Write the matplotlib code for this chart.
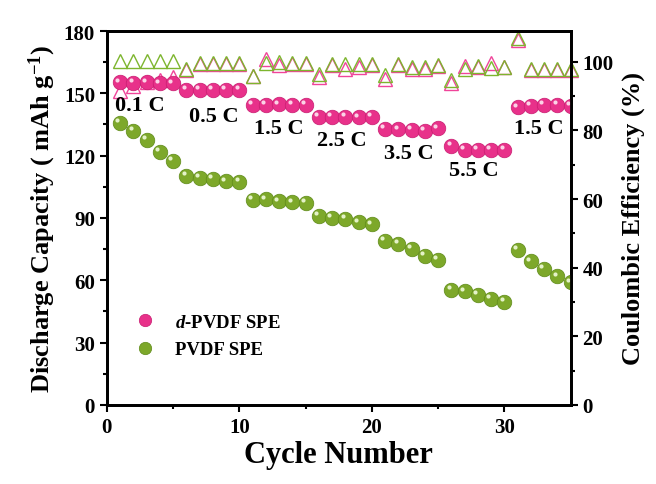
import matplotlib.pyplot as plt
import matplotlib.transforms as mtrans
import numpy as np

plt.rcParams['font.family'] = 'Liberation Serif'
plt.rcParams['font.weight'] = 'bold'
plt.rcParams['mathtext.fontset'] = 'custom'
plt.rcParams['mathtext.it'] = 'Liberation Serif:italic:bold'
plt.rcParams['mathtext.rm'] = 'Liberation Serif:bold'

cycles = np.arange(1, 36)

# discharge capacity (mAh/g)
cap_d = [155.3, 155.0, 155.3, 154.8, 154.8,
         151.7, 151.5, 151.6, 151.5, 151.6,
         144.5, 144.6, 144.7, 144.5, 144.5,
         138.7, 138.5, 138.6, 138.4, 138.6,
         132.8, 132.6, 132.5, 131.9, 133.1,
         124.8, 122.9, 122.9, 122.8, 122.9,
         143.2, 144.0, 144.5, 144.5, 144.0]
cap_p = [135.7, 132.0, 127.5, 121.8, 117.4,
         110.2, 109.2, 108.8, 107.6, 107.2,
         98.8, 99.0, 98.0, 97.5, 97.2,
         91.1, 90.0, 89.5, 87.9, 86.9,
         78.9, 77.5, 75.0, 71.8, 69.9,
         55.5, 54.7, 52.9, 51.0, 49.7,
         74.7, 69.1, 65.4, 61.9, 59.0]

# coulombic efficiency (%)
ce_d = [91.6, 93.1, 94.1, 94.7, 95.6,
        97.5, 99.5, 99.5, 99.5, 99.5,
        96.0, 100.8, 99.0, 99.5, 99.5,
        95.7, 99.0, 98.0, 98.5, 99.0,
        95.1, 99.0, 98.0, 98.0, 98.8,
        93.8, 98.9, 98.5, 99.6, 98.4,
        106.5, 97.5, 97.5, 97.5, 97.5]
ce_p = [100.3, 100.3, 100.3, 100.3, 100.3,
        98.0, 99.8, 99.8, 99.8, 99.8,
        96.0, 99.8, 99.9, 99.8, 99.8,
        96.5, 99.5, 99.5, 99.5, 99.4,
        96.3, 99.4, 98.4, 98.4, 99.1,
        94.8, 97.8, 98.7, 98.3, 98.4,
        107.1, 98.0, 98.0, 98.0, 98.0]

rates = ['0.1 C', '0.5 C', '1.5 C', '2.5 C', '3.5 C', '5.5 C', '1.5 C']
rate_x = [2.5, 8.1, 13.0, 17.7, 22.8, 27.7, 32.6]
rate_y = [144.4, 139.1, 133.3, 127.5, 121.3, 113.1, 133.3]

pink = '#E8318A'
green = '#7DA82A'
tri_pink = '#F0449A'
tri_green = '#7DB52E'

fig = plt.figure(figsize=(6.56, 4.85), dpi=100)
ax = fig.add_axes([0.163, 0.163, 0.707, 0.771])
ax2 = ax.twinx()

ax2.plot(cycles, ce_d, '^', ms=10.5, mfc='none', mec=tri_pink, mew=1.0, clip_on=False)
ax2.plot(cycles, ce_p, '^', ms=10.5, mfc='none', mec=tri_green, mew=1.0, clip_on=False)

ax.set_zorder(ax2.get_zorder() + 1)
ax.patch.set_visible(False)

# small offset dot gives the sphere highlight
hl = mtrans.offset_copy(ax.transData, fig=fig, x=-2, y=2, units='points')
ax.plot(cycles, cap_d, 'o', ms=10.5, color=pink, mec='#C81C70', mew=0.5, label=r'$\it{d}$-PVDF SPE')
ax.plot(cycles, cap_d, 'o', ms=3, color='#FBD3E6', mew=0, transform=hl)
ax.plot(cycles, cap_p, 'o', ms=10.5, color=green, mec='#5E8A18', mew=0.5, label='PVDF SPE')
ax.plot(cycles, cap_p, 'o', ms=3, color='#E4F2C8', mew=0, transform=hl)

for t, x, y in zip(rates, rate_x, rate_y):
    ax.text(x, y, t, fontsize=16, fontweight='bold', ha='center', va='center')

ax.set_xlim(0, 35)
ax.set_ylim(0, 180)
ax2.set_ylim(0, 109)
ax.set_xticks([0, 10, 20, 30])
ax.set_xticks(np.arange(5, 35, 10), minor=True)
ax.set_yticks(np.arange(0, 181, 30))
ax.set_yticks(np.arange(15, 180, 30), minor=True)
ax2.set_yticks(np.arange(0, 101, 20))
ax2.set_yticks(np.arange(10, 101, 20), minor=True)

for a in (ax, ax2):
    a.tick_params(which='major', direction='out', length=5, width=1.5, labelsize=15)
    a.tick_params(which='minor', direction='out', length=3, width=1.5)
    for s in a.spines.values():
        s.set_linewidth(2)

ax.set_xlabel('Cycle Number', fontsize=22, fontweight='bold', labelpad=2)
ax.set_ylabel('Discharge Capacity ( mAh g$^{-1}$)', fontsize=19, fontweight='bold', labelpad=4)
ax2.set_ylabel('Coulombic Efficiency (%)', fontsize=19, fontweight='bold', labelpad=6)

ax.legend(loc='lower left', bbox_to_anchor=(0.005, 0.08), frameon=False, fontsize=13.5,
          handletextpad=0.6, labelspacing=0.55, markerscale=0.85)

fig.savefig('out.png', dpi=100)
